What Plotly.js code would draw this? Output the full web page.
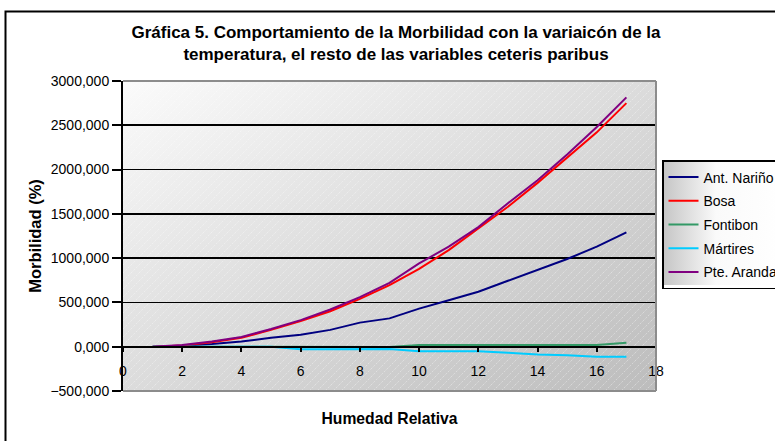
<!DOCTYPE html>
<html>
<head>
<meta charset="utf-8">
<script src="https://cdn.plot.ly/plotly-3.0.1.min.js"></script>
<style>
  html, body { margin: 0; padding: 0; background: #fff; }
  #chart { width: 775px; height: 441px; }
</style>
</head>
<body>
<div id="chart"></div>
<script>
// Data
const humedad = [1, 2, 3, 4, 5, 6, 7, 8, 9, 10, 11, 12, 13, 14, 15, 16, 17];
const antNarino = [0, 10, 30, 58, 100, 135, 190, 272, 320, 430, 525, 620, 745, 865, 990, 1130, 1290];
const bosa = [0, 15, 50, 100, 190, 290, 400, 540, 695, 880, 1090, 1335, 1580, 1850, 2130, 2420, 2750];
const fontibon = [0, 0, 0, 0, 0, -5, -5, -5, -3, 18, 18, 18, 18, 18, 18, 20, 45];
const martires = [0, 0, 0, 0, 0, -28, -28, -28, -25, -50, -50, -50, -68, -88, -95, -112, -112];
const pteAranda = [0, 20, 60, 110, 200, 300, 420, 560, 720, 940, 1130, 1350, 1620, 1880, 2170, 2480, 2815];

const seriesNames = ['Ant. Nariño', 'Bosa', 'Fontibon', 'Mártires', 'Pte. Aranda'];
const seriesValues = [antNarino, bosa, fontibon, martires, pteAranda];
const seriesColors = ['#000080', '#FF0000', '#339966', '#00CCFF', '#800080'];

const chartTitle = 'Gráfica 5. Comportamiento de la Morbilidad con la variaicón de la<br>temperatura, el resto de las variables ceteris paribus';
const xTitle = 'Humedad Relativa';
const yTitle = 'Morbilidad (%)';

const FONT = 'Liberation Sans, Arial, sans-serif';

// Background artwork (gradient + faint diagonal hatch) for plot area and legend
const plotBgSvg =
  '<svg xmlns="http://www.w3.org/2000/svg" width="533" height="310" viewBox="0 0 533 310" preserveAspectRatio="none">' +
  '<defs><linearGradient id="g" x1="0" y1="0" x2="1" y2="1">' +
  '<stop offset="0" stop-color="#fbfbfb"/><stop offset="1" stop-color="#bcbcbc"/></linearGradient>' +
  '<pattern id="p" width="8" height="8" patternUnits="userSpaceOnUse">' +
  '<path d="M0 8 L8 0" stroke="#ffffff" stroke-opacity="0.45" stroke-width="0.8" stroke-dasharray="2 1.5"/></pattern></defs>' +
  '<rect width="533" height="310" fill="url(#g)"/><rect width="533" height="310" fill="url(#p)"/></svg>';
const legendBgSvg =
  '<svg xmlns="http://www.w3.org/2000/svg" width="120" height="125" viewBox="0 0 120 125" preserveAspectRatio="none">' +
  '<defs><linearGradient id="g" x1="0" y1="0" x2="1" y2="0">' +
  '<stop offset="0" stop-color="#c4c4c4"/><stop offset="0.45" stop-color="#fafafa"/><stop offset="1" stop-color="#ffffff"/></linearGradient></defs>' +
  '<rect width="120" height="125" fill="url(#g)"/></svg>';
const toUri = s => 'data:image/svg+xml;charset=utf-8,' + encodeURIComponent(s);

const traces = seriesNames.map((name, i) => ({
  type: 'scatter',
  mode: 'lines',
  name: name,
  x: humedad,
  y: seriesValues[i],
  line: { color: seriesColors[i], width: 2 },
  legendgroup: 'g' + i,
  hoverinfo: 'x+y+name'
}));

const W = 775, H = 441;
const mL = 123, mR = 119, mT = 81, mB = 50;
const pw = W - mL - mR, ph = H - mT - mB;
const px = v => (v - mL) / pw;
const py = v => (H - mB - v) / ph;

const layout = {
  width: W, height: H,
  margin: { l: mL, r: mR, t: mT, b: mB, pad: 0, autoexpand: false },
  paper_bgcolor: '#ffffff',
  plot_bgcolor: 'rgba(0,0,0,0)',
  separators: ',.',
  font: { family: FONT, size: 14, color: '#000000' },
  title: {
    text: chartTitle,
    font: { family: FONT, size: 17, color: '#000000', weight: 'bold' },
    x: 396 / W, xanchor: 'center', xref: 'container',
    y: 1 - 38 / H, yanchor: 'middle'
  },
  xaxis: {
    range: [0, 18],
    tick0: 0, dtick: 2,
    anchor: 'free',
    position: 500 / 3500,
    showline: true, linecolor: '#000000', linewidth: 2,
    ticks: 'outside', ticklen: 4, tickwidth: 2, tickcolor: '#000000',
    ticklabelstandoff: 7,
    showgrid: false, zeroline: false,
    tickfont: { family: FONT, size: 14, color: '#000000' },
    title: { text: xTitle, font: { family: FONT, size: 15.7, color: '#000000', weight: 'bold' }, standoff: 34 }
  },
  yaxis: {
    range: [-500, 3000],
    tick0: -500, dtick: 500,
    tickformat: '.3f',
    showline: true, linecolor: '#000000', linewidth: 2,
    ticks: 'outside', ticklen: 9, tickwidth: 2, tickcolor: '#000000',
    showgrid: true, gridcolor: '#000000', gridwidth: 1.6,
    zeroline: false,
    tickfont: { family: FONT, size: 14, color: '#000000' },
    title: { text: yTitle, font: { family: FONT, size: 16.5, color: '#000000', weight: 'bold' }, standoff: 5 }
  },
  legend: {
    x: px(662), xanchor: 'left',
    y: py(160), yanchor: 'top',
    bgcolor: 'rgba(0,0,0,0)',
    bordercolor: '#000000', borderwidth: 1.5,
    font: { family: FONT, size: 14, color: '#000000' },
    traceorder: 'grouped',
    tracegroupgap: 2.5
  },
  images: [
    { source: toUri(plotBgSvg), xref: 'paper', yref: 'paper', x: 0, y: 1, sizex: 1, sizey: 1,
      sizing: 'stretch', xanchor: 'left', yanchor: 'top', layer: 'below' },
    { source: toUri(legendBgSvg), xref: 'paper', yref: 'paper', x: px(662), y: py(160), sizex: 120 / pw, sizey: 125 / ph,
      sizing: 'stretch', xanchor: 'left', yanchor: 'top', layer: 'above' }
  ],
  shapes: [
    // outer chart frame
    { type: 'rect', xref: 'paper', yref: 'paper', x0: px(5.5), x1: px(800), y0: py(460), y1: py(11.5),
      line: { color: '#000000', width: 2 }, fillcolor: 'rgba(0,0,0,0)', layer: 'below' },
    // grey plot-area border (top, right, bottom)
    { type: 'line', xref: 'paper', yref: 'paper', x0: 0, x1: 1, y0: 1, y1: 1, line: { color: '#8c8c8c', width: 2 }, layer: 'above' },
    { type: 'line', xref: 'paper', yref: 'paper', x0: 1, x1: 1, y0: 0, y1: 1, line: { color: '#8c8c8c', width: 2 }, layer: 'above' },
    { type: 'line', xref: 'paper', yref: 'paper', x0: 0, x1: 1, y0: 0, y1: 0, line: { color: '#8c8c8c', width: 2 }, layer: 'above' }
  ],
  showlegend: true
};

Plotly.newPlot('chart', traces, layout, { displayModeBar: false, staticPlot: true });
</script>
</body>
</html>
